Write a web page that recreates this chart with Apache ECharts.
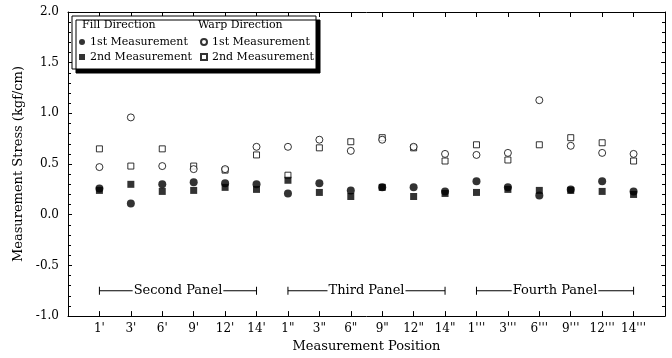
<!DOCTYPE html>
<html>
<head>
<meta charset="utf-8">
<script src="https://cdn.jsdelivr.net/npm/echarts@6/dist/echarts.min.js"></script>
<style>
  html, body { margin: 0; padding: 0; background: #fff; }
  #chart { width: 672px; height: 358px; }
</style>
</head>
<body>
<div id="chart"></div>
<script>
// Measurement positions along each panel (blank ends pad the axis)
var positions = ["1'", "3'", "6'", "9'", "12'", "14'",
                 '1"', '3"', '6"', '9"', '12"', '14"',
                 "1'''", "3'''", "6'''", "9'''", "12'''", "14'''"];

// Measured stress (kgf/cm), fill direction
var fill1st = [0.26, 0.11, 0.30, 0.32, 0.31, 0.30, 0.21, 0.31, 0.24, 0.27, 0.27, 0.23, 0.33, 0.27, 0.19, 0.25, 0.33, 0.23];
var fill2nd = [0.24, 0.30, 0.23, 0.24, 0.27, 0.25, 0.34, 0.22, 0.18, 0.27, 0.18, 0.21, 0.22, 0.25, 0.24, 0.24, 0.23, 0.20];
// Measured stress (kgf/cm), warp direction
var warp1st = [0.47, 0.96, 0.48, 0.45, 0.45, 0.67, 0.67, 0.74, 0.63, 0.74, 0.67, 0.60, 0.59, 0.61, 1.13, 0.68, 0.61, 0.60];
var warp2nd = [0.65, 0.48, 0.65, 0.48, 0.44, 0.59, 0.39, 0.66, 0.72, 0.76, 0.66, 0.53, 0.69, 0.54, 0.69, 0.76, 0.71, 0.53];

// Panel brackets: first/last position index (1-based on the padded axis)
var panelNames = ['Second Panel', 'Third Panel', 'Fourth Panel'];
var panelStart = [1, 7, 13];
var panelEnd = [6, 12, 18];
var panelLevel = -0.75;

var yTicks = { min: -1.0, max: 2.0, step: 0.5 };

var FONT = 'DejaVu Serif';
var axisCats = [''].concat(positions, ['']);

function padded(arr) { return [null].concat(arr, [null]); }

var chart = echarts.init(document.getElementById('chart'), null, { renderer: 'canvas' });

var tickFilter = function (idx, val) { return val !== ''; };

var baseX = {
  type: 'category',
  data: axisCats,
  boundaryGap: false,
  axisLine: { show: true, onZero: false, lineStyle: { color: '#000', width: 1 } },
  splitLine: { show: false }
};
var baseY = {
  type: 'value',
  min: yTicks.min,
  max: yTicks.max,
  interval: yTicks.step,
  axisLine: { show: true, onZero: false, lineStyle: { color: '#000', width: 1 } },
  splitLine: { show: false },
  minorTick: { show: true, splitNumber: 5, length: 3, lineStyle: { color: '#000' } }
};

var option = {
  animation: false,
  backgroundColor: '#fff',
  textStyle: { fontFamily: FONT },
  grid: { left: 68, right: 7, top: 12, bottom: 40, containLabel: false },
  xAxis: [
    Object.assign({}, baseX, {
      position: 'bottom',
      name: 'Measurement Position',
      nameLocation: 'middle',
      nameGap: 22,
      nameTextStyle: { fontFamily: FONT, fontSize: 13, color: '#000' },
      axisTick: { show: true, inside: true, length: 5, interval: tickFilter, lineStyle: { color: '#000' } },
      axisLabel: { show: true, interval: 0, margin: 7, fontFamily: FONT, fontSize: 12, color: '#000' }
    }),
    Object.assign({}, baseX, {
      position: 'top',
      axisTick: { show: true, inside: true, length: 5, interval: tickFilter, lineStyle: { color: '#000' } },
      axisLabel: { show: false }
    })
  ],
  yAxis: [
    Object.assign({}, baseY, {
      position: 'left',
      name: 'Measurement Stress (kgf/cm)',
      nameLocation: 'middle',
      nameGap: 36,
      nameTextStyle: { fontFamily: FONT, fontSize: 13, color: '#000' },
      axisTick: { show: true, inside: true, length: 4, lineStyle: { color: '#000' } },
      minorTick: { show: true, splitNumber: 5, length: 3, lineStyle: { color: '#000' } },
      axisLabel: {
        show: true, margin: 9, fontFamily: FONT, fontSize: 12, color: '#000',
        formatter: function (v) { return v.toFixed(1); }
      }
    }),
    Object.assign({}, baseY, {
      position: 'right',
      axisTick: { show: true, inside: true, length: 4, lineStyle: { color: '#000' } },
      minorTick: { show: true, splitNumber: 5, length: 3, lineStyle: { color: '#000' } },
      axisLabel: { show: false }
    })
  ],
  legend: [
    {
      data: ['Fill 1st', 'Fill 2nd'],
      orient: 'vertical',
      left: 79, top: 35,
      itemWidth: 6, itemHeight: 6, itemGap: 1,
      padding: 0,
      z: 10,
      selectedMode: false,
      formatter: function (n) { return n.indexOf('1st') >= 0 ? '1st Measurement' : '2nd Measurement'; },
      textStyle: { fontFamily: FONT, fontSize: 11, color: '#000', lineHeight: 14 }
    },
    {
      data: ['Warp 1st', 'Warp 2nd'],
      orient: 'vertical',
      left: 200, top: 35,
      itemWidth: 6, itemHeight: 6, itemGap: 1,
      padding: 0,
      z: 10,
      selectedMode: false,
      formatter: function (n) { return n.indexOf('1st') >= 0 ? '1st Measurement' : '2nd Measurement'; },
      textStyle: { fontFamily: FONT, fontSize: 11, color: '#000', lineHeight: 14 }
    }
  ],
  graphic: [
    {
      type: 'rect', z: 5,
      shape: { x: 72, y: 16, width: 244, height: 53 },
      style: { fill: '#fff', stroke: '#000', lineWidth: 1, shadowColor: '#000', shadowOffsetX: 4, shadowOffsetY: 4, shadowBlur: 0 }
    },
    {
      type: 'text', z: 6, left: 82, top: 20,
      style: { text: 'Fill Direction', font: '11px "DejaVu Serif"', fill: '#000' }
    },
    {
      type: 'text', z: 6, left: 198, top: 20,
      style: { text: 'Warp Direction', font: '11px "DejaVu Serif"', fill: '#000' }
    }
  ],
  series: [
    {
      name: 'Warp 2nd', type: 'scatter', symbol: 'rect', symbolSize: 6,
      data: padded(warp2nd),
      itemStyle: { color: '#fff', borderColor: '#000', borderWidth: 1 }, z: 2
    },
    {
      name: 'Warp 1st', type: 'scatter', symbol: 'circle', symbolSize: 7,
      data: padded(warp1st),
      itemStyle: { color: '#fff', borderColor: '#000', borderWidth: 1 }, z: 2
    },
    {
      name: 'Fill 2nd', type: 'scatter', symbol: 'rect', symbolSize: 7,
      data: padded(fill2nd),
      itemStyle: { color: '#000' }, z: 3
    },
    {
      name: 'Fill 1st', type: 'scatter', symbol: 'circle', symbolSize: 8,
      data: padded(fill1st),
      itemStyle: { color: '#000' }, z: 3
    },
    {
      type: 'custom',
      name: 'panels',
      silent: true,
      z: 4,
      data: panelNames.map(function (n, i) { return [panelStart[i], panelEnd[i], panelLevel]; }),
      encode: { x: [0, 1], y: 2 },
      renderItem: function (params, api) {
        var a = api.coord([api.value(0), api.value(2)]);
        var b = api.coord([api.value(1), api.value(2)]);
        var cap = 4;
        var ls = { stroke: '#000', lineWidth: 1 };
        return {
          type: 'group',
          children: [
            { type: 'line', shape: { x1: a[0], y1: a[1], x2: b[0], y2: b[1] }, style: ls },
            { type: 'line', shape: { x1: a[0], y1: a[1] - cap, x2: a[0], y2: a[1] + cap }, style: ls },
            { type: 'line', shape: { x1: b[0], y1: b[1] - cap, x2: b[0], y2: b[1] + cap }, style: ls },
            {
              type: 'text',
              x: (a[0] + b[0]) / 2, y: a[1],
              style: {
                text: panelNames[params.dataIndex],
                font: '13px "DejaVu Serif"', fill: '#000',
                align: 'center', verticalAlign: 'middle',
                backgroundColor: '#fff', padding: [0, 1]
              }
            }
          ]
        };
      }
    }
  ]
};

chart.setOption(option);
</script>
</body>
</html>
